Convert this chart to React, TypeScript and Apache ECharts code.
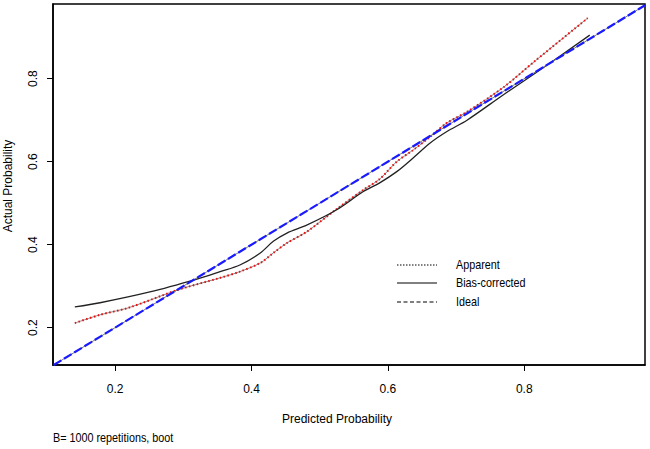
import React, { useEffect, useRef } from "react";
import * as echarts from "echarts";

const apparentX = [0.141, 0.178, 0.22, 0.292, 0.354, 0.383, 0.413, 0.432, 0.452, 0.481, 0.525, 0.564, 0.588, 0.613, 0.637, 0.662, 0.686, 0.716, 0.77, 0.816, 0.893];
const apparentY = [0.211, 0.231, 0.248, 0.291, 0.320, 0.335, 0.356, 0.380, 0.404, 0.431, 0.486, 0.532, 0.558, 0.600, 0.628, 0.660, 0.693, 0.720, 0.780, 0.843, 0.946];

const biasX = [0.141, 0.178, 0.251, 0.32, 0.354, 0.383, 0.413, 0.432, 0.452, 0.481, 0.525, 0.564, 0.588, 0.613, 0.637, 0.662, 0.686, 0.716, 0.77, 0.823, 0.896];
const biasY = [0.25, 0.26, 0.286, 0.317, 0.335, 0.351, 0.380, 0.408, 0.428, 0.447, 0.484, 0.528, 0.549, 0.576, 0.609, 0.645, 0.672, 0.700, 0.762, 0.821, 0.905];

const idealX = [0.11, 0.977];
const idealY = [0.11, 0.977];

const tickValues = [0.2, 0.4, 0.6, 0.8];
const legendLabels = ["Apparent", "Bias-corrected", "Ideal"];

const xTitle = "Predicted Probability";
const yTitle = "Actual Probability";
const footnote = "B= 1000 repetitions, boot";

const zip = (xs: number[], ys: number[]) => xs.map((x, i) => [x, ys[i]]);

export default function App() {
  const ref = useRef<HTMLDivElement>(null);
  useEffect(() => {
    if (!ref.current) return;
    const chart = echarts.init(ref.current, null, { renderer: "svg" });
    const font = "'Liberation Sans', Arial, sans-serif";
    const legendRows = [265, 283, 302];
    const legendDash: any[] = [[1.5, 1.5], null, [4, 2.5]];
    const graphics: any[] = [];
    legendLabels.forEach((lab, i) => {
      graphics.push({
        type: "line",
        shape: { x1: 397, y1: legendRows[i], x2: 437, y2: legendRows[i] },
        style: { stroke: "#000", lineWidth: 1, lineDash: legendDash[i] },
      });
      graphics.push({
        type: "text",
        x: 456,
        y: legendRows[i],
        scaleX: 0.9,
        style: { text: lab, font: `12px ${font}`, fill: "#000", verticalAlign: "middle" },
      });
    });
    graphics.push({
      type: "text",
      x: 337,
      y: 419,
      style: { text: xTitle, font: `12px ${font}`, fill: "#000", align: "center", verticalAlign: "middle" },
    });
    graphics.push({
      type: "text",
      x: 8,
      y: 186,
      rotation: Math.PI / 2,
      style: { text: yTitle, font: `12px ${font}`, fill: "#000", align: "center", verticalAlign: "middle" },
    });
    graphics.push({
      type: "text",
      x: 53,
      y: 438,
      scaleX: 0.9,
      style: { text: footnote, font: `12px ${font}`, fill: "#000", align: "left", verticalAlign: "middle" },
    });

    const smooth = 0.3;
    chart.setOption({
      animation: false,
      backgroundColor: "#fff",
      grid: { left: 53, right: 5, top: 4, bottom: 84, show: true, borderColor: "#000", borderWidth: 1.5, backgroundColor: "transparent" },
      xAxis: {
        type: "value",
        min: 0.109,
        max: 0.977,
        axisLine: { show: true, onZero: false, lineStyle: { color: "#000", width: 1.5 } },
        axisTick: { show: true, length: 6, customValues: tickValues, lineStyle: { color: "#000" } },
        axisLabel: { customValues: tickValues, formatter: (v: number) => v.toFixed(1), margin: 18, color: "#000", fontSize: 12, fontFamily: font },
        splitLine: { show: false },
      },
      yAxis: {
        type: "value",
        min: 0.11,
        max: 0.98,
        axisLine: { show: true, onZero: false, lineStyle: { color: "#000", width: 1.5 } },
        axisTick: { show: true, length: 6, customValues: tickValues, lineStyle: { color: "#000" } },
        axisLabel: { customValues: tickValues, rotate: 90, formatter: (v: number) => v.toFixed(1), margin: 14, color: "#000", fontSize: 12, fontFamily: font },
        splitLine: { show: false },
      },
      graphic: graphics,
      series: [
        {
          name: "Apparent-under",
          type: "line",
          data: zip(apparentX, apparentY),
          smooth,
          symbol: "none",
          lineStyle: { color: "#888", width: 1 },
          silent: true,
        },
        {
          name: "Apparent",
          type: "line",
          data: zip(apparentX, apparentY),
          smooth,
          symbol: "none",
          lineStyle: { color: "#e81010", width: 2, type: [1.5, 2.5] },
        },
        {
          name: "Bias-corrected",
          type: "line",
          data: zip(biasX, biasY),
          smooth,
          symbol: "none",
          lineStyle: { color: "#222", width: 1.3 },
        },
        {
          name: "Ideal-under",
          type: "line",
          data: zip(idealX, idealY),
          symbol: "none",
          lineStyle: { color: "#777", width: 1 },
          silent: true,
        },
        {
          name: "Ideal",
          type: "line",
          data: zip(idealX, idealY),
          symbol: "none",
          lineStyle: { color: "#1a1aff", width: 2.2, type: [9, 3] },
        },
      ],
    });
    return () => chart.dispose();
  }, []);
  return <div ref={ref} style={{ width: 650, height: 449, position: "absolute", left: 0, top: 0 }} />;
}
